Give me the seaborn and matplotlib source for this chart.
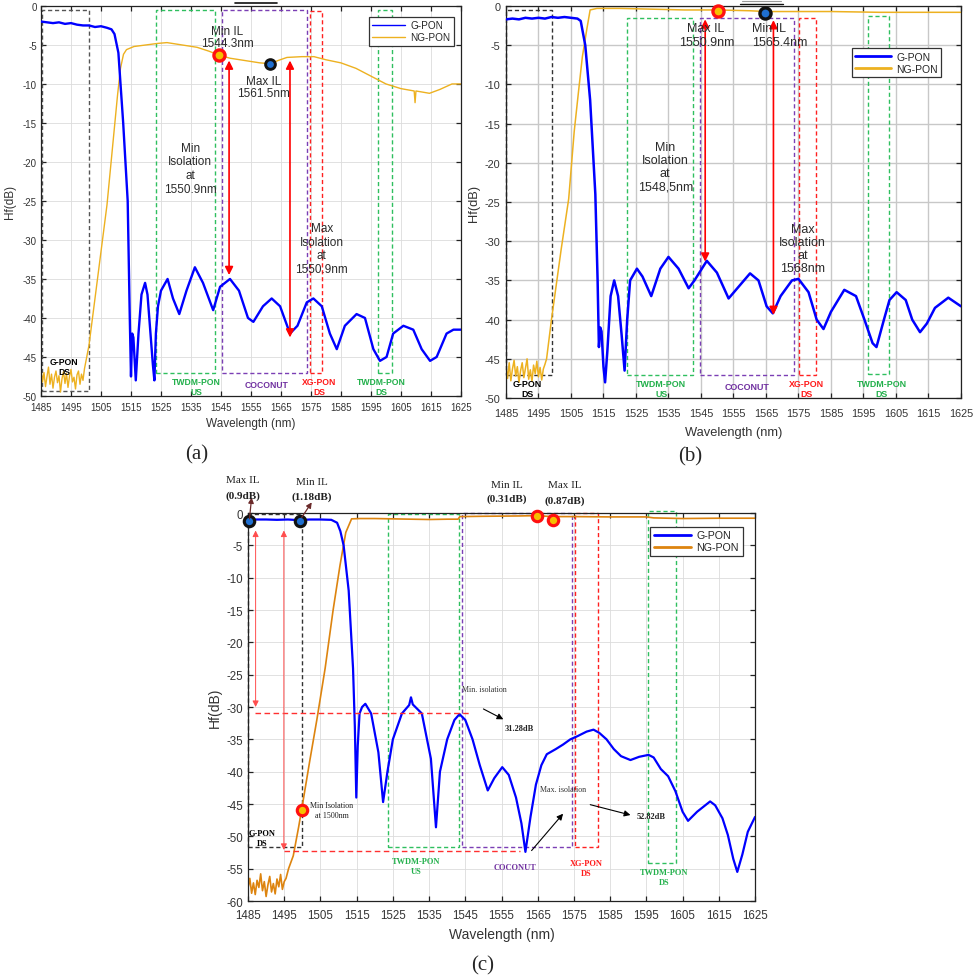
import matplotlib.pyplot as plt
from matplotlib.patches import Rectangle
from matplotlib.lines import Line2D
import numpy as np
import seaborn as sns

# ---------------- panel (a) data ----------------
a_gpon_wl = [1485, 1487, 1489, 1491, 1493, 1495, 1497, 1499, 1501, 1503,
             1505, 1507, 1508.5, 1509.5, 1510.8, 1512.4, 1513.9, 1514.6, 1515.0, 1515.4,
             1515.8, 1516.6, 1517.5, 1518.5, 1519.7, 1520.5, 1521.5, 1522.3, 1522.8, 1523.3,
             1524.0, 1525.0, 1527.2, 1529.0, 1531.1, 1533.5, 1536.3, 1539.0, 1542.4, 1544.7,
             1548.0, 1551.0, 1554.0, 1555.8, 1559.0, 1561.9, 1564.7, 1568.0, 1570.5, 1573.6,
             1575.8, 1578.6, 1581.3, 1583.6, 1586.3, 1590.2, 1593.0, 1595.8, 1598.0, 1600.2,
             1602.4, 1605.8, 1609.1, 1611.9, 1614.7, 1616.9, 1620.2, 1622.5, 1625]
a_gpon_db = [-2.0, -2.1, -2.2, -2.1, -2.3, -2.2, -2.4, -2.5, -2.5, -2.7,
             -2.6, -2.8, -3.0, -3.6, -6.0, -15.0, -25.0, -40.0, -47.5, -42.0,
             -42.5, -48.0, -42.0, -37.0, -35.5, -37.0, -42.0, -46.0, -48.0, -42.0,
             -38.5, -36.5, -35.0, -37.5, -39.5, -36.5, -33.5, -35.5, -39.0, -36.0,
             -35.0, -36.5, -40.0, -40.5, -38.5, -37.5, -38.5, -42.0, -41.0, -38.0,
             -37.5, -38.5, -42.0, -44.0, -41.0, -39.5, -40.0, -44.0, -45.5, -45.0,
             -42.0, -41.0, -41.5, -44.0, -45.5, -45.0, -42.0, -41.5, -41.5]

a_ng_floor_wl = np.arange(1485, 1500.5, 0.5)
a_ng_floor_db = [-46.5, -48.2, -47.0, -48.8, -47.5, -46.3, -48.5, -47.2, -49.0, -47.6,
                 -46.8, -48.3, -47.4, -49.5, -47.8, -46.9, -48.4, -47.1, -48.9, -47.5,
                 -46.6, -48.2, -47.6, -49.1, -47.3, -46.8, -48.5, -47.2, -48.0, -46.5, -45.5]
a_ng_wl = [1501, 1503, 1505, 1507, 1509, 1510.5, 1511.5, 1512.5, 1513.5, 1516,
           1520, 1524, 1527, 1532, 1537, 1541, 1544.3, 1548, 1553, 1558,
           1561.5, 1564, 1567, 1572, 1576, 1580, 1585, 1590, 1595, 1600,
           1605, 1609.4, 1609.7, 1610.0, 1611.5, 1614.5, 1618, 1622, 1625]
a_ng_db = [-43.5, -37.5, -31.5, -25.5, -17.5, -11.5, -8.0, -6.2, -5.6, -5.2,
           -5.0, -4.8, -4.7, -5.0, -5.3, -5.8, -6.3, -6.7, -7.0, -7.3,
           -7.4, -7.0, -6.6, -6.5, -6.5, -6.9, -7.3, -8.0, -9.0, -10.0,
           -10.6, -10.9, -12.4, -10.9, -11.0, -11.2, -10.7, -10.0, -10.0]

a_min_il = (1544.3, -6.3)
a_max_il = (1561.5, -7.5)
# bands: start, end, top, bottom, colour
a_bands = [(1485.2, 1501.0, -0.55, -49.4, '#555555'),
           (1523.3, 1543.1, -0.55, -47.1, '#2fbf5f'),
           (1545.2, 1573.6, -0.55, -47.0, '#7b3fb5'),
           (1574.7, 1578.7, -0.6, -47.0, '#ff2020'),
           (1597.2, 1602.1, -0.55, -47.0, '#2fbf5f')]

# ---------------- panel (b) data ----------------
b_gpon_wl = [1485, 1487, 1489, 1491, 1493, 1495, 1497, 1499, 1501, 1503,
             1505, 1507, 1508, 1509.4, 1510.9, 1512.5, 1513.2, 1513.6, 1514.0, 1514.4,
             1515.0, 1515.5, 1516.2, 1517.2, 1518.3, 1519.5, 1520.6, 1521.5, 1522.3, 1523.2,
             1525.3, 1527.0, 1529.7, 1532.5, 1535.0, 1538.1, 1541.2, 1543.0, 1546.8, 1549.9,
             1553.5, 1556.8, 1560.1, 1562.7, 1565.2, 1567.1, 1569.5, 1573.0, 1575.0, 1578.1,
             1580.6, 1582.7, 1585.0, 1589.1, 1592.7, 1595.3, 1597.8, 1599.0, 1601.3, 1603.0,
             1605.2, 1608.0, 1610.0, 1612.4, 1614.5, 1617.0, 1621.1, 1625]
b_gpon_db = [-1.7, -1.6, -1.7, -1.5, -1.6, -1.5, -1.6, -1.4, -1.5, -1.4,
             -1.5, -1.6, -1.9, -5.0, -12.0, -24.0, -35.0, -43.5, -41.0, -41.5,
             -46.0, -48.0, -44.0, -37.0, -35.0, -37.0, -42.0, -46.5, -40.0, -35.0,
             -33.5, -34.5, -37.0, -33.5, -32.0, -33.5, -36.0, -35.0, -32.5, -34.0,
             -37.3, -35.7, -34.1, -35.0, -38.3, -39.2, -37.0, -35.0, -34.8, -36.5,
             -40.0, -41.2, -39.0, -36.2, -37.0, -40.0, -43.0, -43.5, -40.0, -37.5,
             -36.5, -37.5, -40.0, -41.6, -40.5, -38.5, -37.2, -38.3]

b_ng_floor_wl = np.arange(1485, 1497.5, 0.5)
b_ng_floor_db = [-46.0, -47.5, -45.5, -47.8, -46.3, -45.2, -47.2, -46.0, -48.0, -46.5,
                 -45.5, -47.4, -46.2, -45.0, -47.6, -46.4, -47.9, -45.8, -46.9, -45.3,
                 -47.3, -46.1, -47.7, -46.3, -45.7]
b_ng_wl = [1497.5, 1499, 1500, 1502, 1504.3, 1506, 1507.3, 1508.5, 1509.9, 1510.9,
           1513, 1520, 1530, 1540, 1550, 1560, 1565, 1575, 1585, 1600, 1610, 1625]
b_ng_db = [-45.0, -40.0, -37.0, -31.0, -24.6, -16.0, -11.0, -6.5, -2.9, -0.5,
           -0.3, -0.3, -0.4, -0.5, -0.5, -0.6, -0.7, -0.7, -0.7, -0.8, -0.8, -0.8]

b_max_il = (1550.3, -0.6)
b_min_il = (1564.7, -0.85)
b_bands = [(1485.1, 1499.3, -0.55, -47.0, '#333333'),
           (1522.2, 1542.7, -1.55, -47.0, '#2fbf5f'),
           (1544.8, 1573.5, -1.5, -47.0, '#7b3fb5'),
           (1575.3, 1580.4, -1.5, -47.0, '#ff2020'),
           (1596.3, 1603.0, -1.3, -46.9, '#2fbf5f')]

# ---------------- panel (c) data ----------------
c_gpon_wl = [1485, 1487, 1490, 1493, 1496, 1499, 1502, 1505, 1508, 1509.6,
             1510.5, 1511.4, 1512.8, 1514.0, 1514.5, 1514.9, 1515.3, 1515.8, 1516.5, 1517.4,
             1519.0, 1521.0, 1522.3, 1523.5, 1525.0, 1527.5, 1529.5, 1530.0, 1530.5, 1533.0,
             1535.5, 1536.9, 1538.0, 1540.0, 1542.0, 1543.4, 1545.0, 1547.0, 1549.0, 1551.2,
             1553.0, 1555.2, 1557.0, 1559.0, 1560.5, 1561.6, 1563.0, 1564.5, 1566.0, 1567.5,
             1570.0, 1572.0, 1574.0, 1576.0, 1578.5, 1580.4, 1582.0, 1584.0, 1586.0, 1588.0,
             1590.6, 1593.0, 1595.6, 1597.0, 1599.0, 1601.0, 1603.0, 1605.0, 1606.5, 1609.0,
             1612.6, 1614.0, 1616.0, 1617.5, 1619.0, 1620.1, 1621.5, 1623.0, 1625]
c_gpon_db = [-0.9, -1.0, -1.0, -1.05, -1.0, -1.1, -1.0, -1.0, -1.05, -1.5,
             -2.8, -5.0, -12.0, -24.0, -33.0, -44.0, -36.0, -31.0, -30.0, -29.5,
             -31.0, -37.0, -44.7, -40.0, -35.0, -31.0, -29.7, -28.5, -29.6, -31.0,
             -38.0, -48.6, -40.0, -35.0, -32.0, -31.1, -32.0, -35.0, -39.0, -42.9,
             -41.0, -39.3, -40.5, -44.0, -48.0, -52.4, -47.0, -42.0, -39.0, -37.3,
             -36.5, -35.8, -35.0, -34.5, -33.8, -33.5, -34.0, -35.0, -36.5, -37.6,
             -38.2, -37.7, -37.4, -37.8, -39.6, -40.7, -43.0, -46.2, -47.6, -46.2,
             -44.6, -45.2, -47.2, -49.8, -53.5, -55.5, -52.8, -49.3, -47.0]

c_ng_floor_wl = np.arange(1485, 1496, 0.5)
c_ng_floor_db = [-58.0, -56.5, -58.8, -57.2, -59.0, -56.8, -57.9, -55.8, -58.4, -57.0,
                 -59.3, -57.5, -56.2, -58.6, -57.3, -58.9, -56.6, -57.8, -55.9, -58.2,
                 -57.0, -56.5]
c_ng_wl = [1496.2, 1497.5, 1499.0, 1499.8, 1502.0, 1504.0, 1506.3, 1508.5, 1510.4, 1512.0,
           1513.6, 1516, 1520, 1525, 1530, 1535, 1540, 1543, 1543.5, 1550,
           1560, 1564.7, 1569, 1575, 1585, 1595, 1597, 1605, 1615, 1625]
c_ng_db = [-55.0, -53.0, -48.5, -45.9, -38.5, -32.0, -24.0, -15.0, -8.1, -3.0,
           -0.9, -0.85, -0.85, -0.9, -0.95, -1.0, -0.95, -0.95, -0.55, -0.5,
           -0.45, -0.4, -0.55, -0.55, -0.6, -0.6, -0.75, -0.85, -0.8, -0.8]

c_black_pts = [(1485.3, -1.2), (1499.4, -1.2)]
c_red_pts = [(1564.7, -0.4), (1569.1, -1.0), (1499.8, -45.9)]
c_bands = [(1485.0, 1499.8, -0.15, -51.7, '#333333'),
           (1523.6, 1543.2, -0.1, -51.7, '#2fbf5f'),
           (1544.1, 1574.5, -0.05, -51.7, '#7b3fb5'),
           (1575.2, 1581.7, -0.05, -51.7, '#ff2020'),
           (1595.4, 1603.3, 0.26, -54.1, '#2fbf5f')]

wl_ticks = list(range(1485, 1626, 10))

BLUE = '#0000ff'
ORANGE_AB = '#EDB120'
ORANGE_C = '#DD840F'
GREEN_T = '#22b04b'
PURPLE_T = '#7030a0'
RED_T = '#ff1a1a'
TXT = '#2b2b2b'
SERIF = ['Liberation Serif', 'DejaVu Serif']

sns.set_theme(style="white")
plt.rcParams['font.family'] = ['Liberation Sans', 'DejaVu Sans']
plt.rcParams['axes.unicode_minus'] = False

fig = plt.figure(figsize=(9.76, 9.78), dpi=100)
ax_a = fig.add_axes([0.0420, 0.5941, 0.4303, 0.3988])
ax_b = fig.add_axes([0.5184, 0.5920, 0.4662, 0.4008])
ax_c = fig.add_axes([0.2541, 0.0777, 0.5195, 0.3967])


def setup(ax, ylo, tsize, gcol, glw, xpad, ypad, lsize, xlab_y, ylab_x):
    ax.set_xlim(1485, 1625)
    ax.set_ylim(ylo, 0)
    ax.set_xticks(wl_ticks)
    ax.set_yticks(list(range(ylo, 1, 5)))
    ax.grid(True, color=gcol, lw=glw)
    ax.set_axisbelow(True)
    ax.tick_params(axis='both', direction='in', bottom=True, left=True, top=True, right=True,
                   length=3.5, width=0.9, labelsize=tsize, colors='#222222', labelcolor='#333333')
    ax.tick_params(axis='x', pad=xpad)
    ax.tick_params(axis='y', pad=ypad)
    for s in ax.spines.values():
        s.set_color('#222222')
        s.set_linewidth(0.9)
    ax.set_xlabel('Wavelength (nm)', fontsize=lsize, color='#333333')
    ax.set_ylabel('Hf(dB)', fontsize=lsize, color='#333333')
    ax.xaxis.set_label_coords(0.5, xlab_y)
    ax.yaxis.set_label_coords(ylab_x, 0.5)


def bands(ax, rows, lw=1.0):
    for x0, x1, top, bot, col in rows:
        ax.add_patch(Rectangle((x0, bot), x1 - x0, top - bot, fill=False, ec=col, lw=lw,
                               ls=(0, (3, 2)), clip_on=False, zorder=1.5))


def curves(ax, gwl, gdb, nwl, ndb, ncol, glw, nlw):
    sns.lineplot(x=gwl, y=gdb, ax=ax, color=BLUE, lw=glw, label='G-PON',
                 sort=False, estimator=None, zorder=3)
    sns.lineplot(x=nwl, y=ndb, ax=ax, color=ncol, lw=nlw, label='NG-PON',
                 sort=False, estimator=None, zorder=2.5)


def ring(ax, pt, kind, ms):
    if kind == 'red':
        ax.plot(*pt, 'o', ms=ms, mfc='#f5c000', mec='#ff1010', mew=ms * 0.3, zorder=6, clip_on=False)
    else:
        ax.plot(*pt, 'o', ms=ms, mfc='#1f6fd0', mec='#111111', mew=ms * 0.3, zorder=6, clip_on=False)


def legend(ax, anchor, fsize, hlen, lw):
    leg = ax.legend(loc='upper left', bbox_to_anchor=anchor, borderaxespad=0, fontsize=fsize,
                    frameon=True, fancybox=False, edgecolor='#333333', framealpha=1,
                    handlelength=hlen, borderpad=0.35, labelspacing=0.2, handletextpad=0.5)
    leg.get_frame().set_linewidth(0.9)
    for ln in leg.get_lines():
        ln.set_linewidth(lw)


def dbl_arrow(ax, x, y0, y1, col='red', lw=1.2, ms=12):
    ax.annotate('', xy=(x, y0), xytext=(x, y1),
                arrowprops=dict(arrowstyle='<|-|>', color=col, lw=lw, mutation_scale=ms,
                                shrinkA=0, shrinkB=0), zorder=5)


# ================= (a) =================
ax = ax_a
setup(ax, -50, 7.0, '#dcdcdc', 0.6, 4, 3, 8.5, -0.054, -0.06)
bands(ax, a_bands)
curves(ax, a_gpon_wl, a_gpon_db,
       list(a_ng_floor_wl) + a_ng_wl, a_ng_floor_db + a_ng_db, ORANGE_AB, 1.7, 1.0)
legend(ax, (0.781, 0.972), 7.2, 3.3, 1.0)
ring(ax, a_min_il, 'red', 8)
ring(ax, a_max_il, 'black', 7)
dbl_arrow(ax, 1547.7, -7.0, -34.5)
dbl_arrow(ax, 1568.0, -7.0, -42.5)
ax.text(1547.0, -4.0, 'Min IL\n1544.3nm', ha='center', va='center', fontsize=8.5,
        color=TXT, linespacing=1.05, zorder=7)
ax.text(1559.2, -10.4, 'Max IL\n1561.5nm', ha='center', va='center', fontsize=8.5,
        color=TXT, linespacing=1.05, zorder=7)
ax.text(1534.7, -20.8, 'Min\nIsolation\nat\n1550.9nm', ha='center', va='center',
        fontsize=8.5, color=TXT, linespacing=1.18, zorder=7)
ax.text(1578.6, -31.1, 'Max\nIsolation\nat\n1550.9nm', ha='center', va='center',
        fontsize=8.5, color=TXT, linespacing=1.18, zorder=7)
lab_kw = dict(ha='center', va='center', fontsize=6.2, fontweight='bold', linespacing=1.1, zorder=7)
ax.text(1492.7, -46.2, 'G-PON\nDS', color='black', **lab_kw)
ax.text(1536.9, -48.8, 'TWDM-PON\nUS', color=GREEN_T, **lab_kw)
ax.text(1560.2, -48.5, 'COCONUT', color=PURPLE_T, **lab_kw)
ax.text(1577.8, -48.8, 'XG-PON\nDS', color=RED_T, **lab_kw)
ax.text(1598.6, -48.8, 'TWDM-PON\nDS', color=GREEN_T, **lab_kw)

# ================= (b) =================
ax = ax_b
setup(ax, -50, 7.8, '#c8c8c8', 1.0, 7, 4, 9.3, -0.071, -0.058)
bands(ax, b_bands)
curves(ax, b_gpon_wl, b_gpon_db,
       list(b_ng_floor_wl) + b_ng_wl, b_ng_floor_db + b_ng_db, ORANGE_AB, 1.8, 1.1)
legend(ax, (0.760, 0.893), 7.5, 3.4, 2.0)
ring(ax, b_max_il, 'red', 8)
ring(ax, b_min_il, 'black', 8)
dbl_arrow(ax, 1546.3, -1.7, -32.6)
dbl_arrow(ax, 1567.3, -1.8, -39.4)
ax.text(1546.4, -2.82, 'Max IL', ha='center', va='center', fontsize=9, color=TXT, zorder=7)
ax.text(1546.7, -4.53, '1550.9nm', ha='center', va='center', fontsize=9, color=TXT, zorder=7)
ax.text(1565.9, -2.82, 'Min IL', ha='center', va='center', fontsize=9, color=TXT, zorder=7)
ax.text(1569.3, -4.53, '1565.4nm', ha='center', va='center', fontsize=9, color=TXT, zorder=7)
ax.text(1534.0, -20.5, 'Min\nIsolation\nat\n1548,5nm', ha='center', va='center',
        fontsize=9, color=TXT, linespacing=1.13, zorder=7)
ax.text(1576.3, -30.9, 'Max\nIsolation\nat\n1568nm', ha='center', va='center',
        fontsize=9, color=TXT, linespacing=1.13, zorder=7)
lab_kw = dict(ha='center', va='center', fontsize=6.4, fontweight='bold', linespacing=1.1, zorder=7)
ax.text(1491.7, -48.8, 'G-PON\nDS', color='black', **lab_kw)
ax.text(1532.8, -48.8, 'TWDM-PON\nUS', color=GREEN_T, **lab_kw)
ax.text(1559.3, -48.5, 'COCONUT', color=PURPLE_T, **lab_kw)
ax.text(1577.5, -48.8, 'XG-PON\nDS', color=RED_T, **lab_kw)
ax.text(1600.6, -48.8, 'TWDM-PON\nDS', color=GREEN_T, **lab_kw)

# ================= (c) =================
ax = ax_c
setup(ax, -60, 8.3, '#dcdcdc', 0.6, 6, 3.5, 10, -0.066, -0.051)
bands(ax, c_bands)
curves(ax, c_gpon_wl, c_gpon_db,
       list(c_ng_floor_wl) + c_ng_wl, c_ng_floor_db + c_ng_db, ORANGE_C, 1.6, 1.2)
legend(ax, (0.793, 0.965), 7.7, 3.5, 2.0)
for p in c_black_pts:
    ring(ax, p, 'black', 7.5)
for p in c_red_pts:
    ring(ax, p, 'red', 7.5)

# isolation guides
ax.plot([1487.0, 1546.4], [-30.9, -30.9], ls=(0, (4, 2.5)), color='#ff3030', lw=1.0, zorder=4)
ax.plot([1495.0, 1560.2], [-52.3, -52.3], ls=(0, (4, 2.5)), color='#ff3030', lw=1.0, zorder=4)
dbl_arrow(ax, 1487.1, -2.7, -30.0, col='#ff4d4d', lw=0.7, ms=9)
dbl_arrow(ax, 1494.9, -2.7, -52.1, col='#ff4d4d', lw=0.7, ms=9)

arr_k = dict(arrowstyle='-|>', color='black', lw=0.8, mutation_scale=9, shrinkA=0, shrinkB=0)
ax.annotate('', xy=(1555.5, -31.9), xytext=(1550.0, -30.3), arrowprops=arr_k, zorder=5)
ax.annotate('', xy=(1572.0, -46.5), xytext=(1563.3, -52.2), arrowprops=arr_k, zorder=5)
ax.annotate('', xy=(1590.6, -46.7), xytext=(1579.5, -45.1), arrowprops=arr_k, zorder=5)
arr_br = dict(arrowstyle='-|>', color='#6b2a2a', lw=0.9, mutation_scale=8, shrinkA=0, shrinkB=0)
ax.annotate('', xy=(1486.0, 2.4), xytext=(1485.4, -0.9), arrowprops=arr_br,
            annotation_clip=False, zorder=7)
ax.annotate('', xy=(1502.6, 1.65), xytext=(1499.8, -0.7), arrowprops=arr_br,
            annotation_clip=False, zorder=7)

s_kw = dict(ha='center', va='center', family=SERIF, color='#222222', zorder=7)
ax.text(1483.5, 5.15, 'Max IL', fontsize=8, **s_kw)
ax.text(1483.5, 2.78, '(0.9dB)', fontsize=8, fontweight='bold', **s_kw)
ax.text(1502.6, 4.84, 'Min IL', fontsize=8, **s_kw)
ax.text(1502.6, 2.68, '(1.18dB)', fontsize=8, fontweight='bold', **s_kw)
ax.text(1556.4, 4.44, 'Min IL', fontsize=8, **s_kw)
ax.text(1556.4, 2.27, '(0.31dB)', fontsize=8, fontweight='bold', **s_kw)
ax.text(1572.5, 4.44, 'Max IL', fontsize=8, **s_kw)
ax.text(1572.5, 2.06, '(0.87dB)', fontsize=8, fontweight='bold', **s_kw)
ax.text(1544.0, -27.2, 'Min. isolation', ha='left', va='center', family=SERIF,
        fontsize=5.8, color='#333333', zorder=7)
ax.text(1559.9, -33.3, '31.28dB', fontsize=6, fontweight='bold', **s_kw)
ax.text(1565.5, -42.7, 'Max. isolation', ha='left', va='center', family=SERIF,
        fontsize=5.8, color='#333333', zorder=7)
ax.text(1596.2, -46.8, '52.82dB', fontsize=6, fontweight='bold', **s_kw)
ax.text(1508.2, -45.9, 'Min Isolation\nat 1500nm', fontsize=5.8, linespacing=1.3, **s_kw)

c_kw = dict(ha='center', va='center', family=SERIF, fontsize=6, fontweight='bold',
            linespacing=1.35, zorder=7)
ax.text(1488.9, -50.2, 'G-PON\nDS', color='black', **c_kw)
ax.text(1531.4, -54.65, 'TWDM-PON\nUS', color=GREEN_T, **c_kw)
ax.text(1558.7, -54.8, 'COCONUT', color=PURPLE_T, **c_kw)
ax.text(1578.5, -54.9, 'XG-PON\nDS', color=RED_T, **c_kw)
ax.text(1599.9, -56.35, 'TWDM-PON\nDS', color=GREEN_T, **c_kw)

# small leftover strokes above panels (a) and (b)
fig.add_artist(Line2D([235 / 976, 277 / 976], [1 - 3.8 / 978, 1 - 3.8 / 978], color='#111111', lw=1.2))
fig.add_artist(Line2D([740 / 976, 783 / 976], [1 - 5 / 978, 1 - 5 / 978], color='#111111', lw=1.0))
fig.add_artist(Line2D([742 / 976, 781 / 976], [1 - 1.5 / 978, 1 - 1.5 / 978], color='#999999', lw=0.8))

# panel captions
fig.text(0.2018, 0.5348, '(a)', family=SERIF, fontsize=15, ha='center', va='center')
fig.text(0.7070, 0.5330, '(b)', family=SERIF, fontsize=15, ha='center', va='center')
fig.text(0.4949, 0.0123, '(c)', family=SERIF, fontsize=15, ha='center', va='center')

fig.savefig('out.png', dpi=100)
